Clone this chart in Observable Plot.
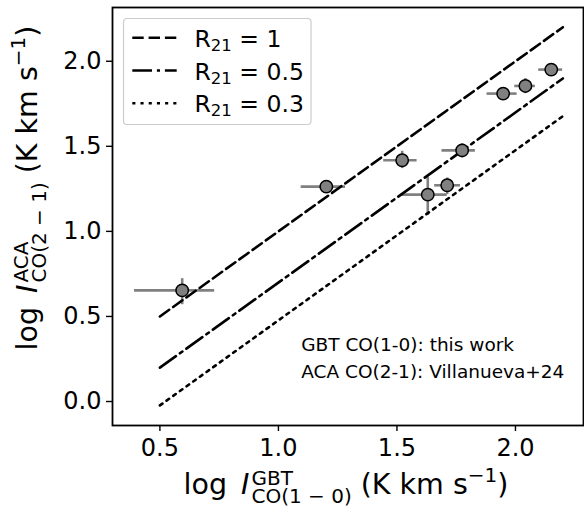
<!DOCTYPE html>
<html><head><meta charset="utf-8">
<script src="https://cdn.jsdelivr.net/npm/d3@7"></script>
<script src="https://cdn.jsdelivr.net/npm/@observablehq/plot@0.6"></script>
<style>body{margin:0;background:#fff} svg{display:block}</style>
</head><body><div id="chart"></div>
<script>
// ---- data ----
const gbt   = [0.594, 1.202, 1.522, 1.630, 1.712, 1.775, 1.948, 2.042, 2.151];
const gbtLo = [0.393, 1.096, 1.444, 1.522, 1.659, 1.690, 1.880, 1.997, 2.098];
const gbtHi = [0.731, 1.283, 1.585, 1.712, 1.768, 1.831, 2.007, 2.084, 2.199];
const aca   = [0.653, 1.263, 1.418, 1.216, 1.271, 1.476, 1.810, 1.855, 1.951];
const acaLo = [0.569, 1.250, 1.369, 1.094, 1.216, 1.431, 1.780, 1.810, 1.930];
const acaHi = [0.722, 1.276, 1.471, 1.319, 1.314, 1.516, 1.835, 1.898, 1.970];
const ratios = [1, 0.5, 0.3];
const ratioLabels = ["1", "0.5", "0.3"];
const lineX = [0.5, 2.2];
const xTicks = [0.5, 1.0, 1.5, 2.0];
const yTicks = [0.0, 0.5, 1.0, 1.5, 2.0];
const notes = ["GBT CO(1-0): this work", "ACA CO(2-1): Villanueva+24"];
const noteX = [1.096, 1.096];
const noteY = [0.330, 0.172];

const FONT = "'DejaVu Sans', sans-serif";
const dashes = ["11.4,4.9", "19.7,4.9,3.1,4.9", "3.1,5.1"];
const LW = 2.6;

const points = gbt.map((x, i) => ({x, y: aca[i], x1: gbtLo[i], x2: gbtHi[i], y1: acaLo[i], y2: acaHi[i]}));
const lines = ratios.map((r) => lineX.map(x => ({x, y: x + Math.log10(r)})));

const plot = Plot.plot({
  width: 584, height: 506,
  marginTop: 7, marginRight: 1, marginBottom: 81, marginLeft: 112,
  style: {fontFamily: FONT, background: "#fff", color: "#000", overflow: "visible"},
  x: {domain: [0.3, 2.287]},
  y: {domain: [-0.141, 2.316]},
  marks: [
    Plot.ruleY(points, {y: "y", x1: "x1", x2: "x2", stroke: "#808080", strokeWidth: LW}),
    Plot.ruleX(points, {x: "x", y1: "y1", y2: "y2", stroke: "#808080", strokeWidth: LW}),
    ...lines.map((L, i) => Plot.line(L, {x: "x", y: "y", stroke: "#000", strokeWidth: LW, strokeDasharray: dashes[i]})),
    Plot.dot(points, {x: "x", y: "y", r: 6.2, fill: "#808080", stroke: "#000", strokeWidth: 1.5}),
    Plot.text(notes, {x: noteX, y: noteY, text: d => d, textAnchor: "start", lineAnchor: "middle", fontSize: 18.5, fill: "#000"}),
    Plot.axisX(xTicks, {tickSize: 6, tickPadding: 7, tickFormat: d3.format(".1f"), fontSize: 24, strokeWidth: 1.4, label: null}),
    Plot.axisY(yTicks, {tickSize: 6, tickPadding: 5, tickFormat: d3.format(".1f"), fontSize: 24, strokeWidth: 1.4, label: null}),
    Plot.frame({stroke: "#000", strokeWidth: 1.8})
  ]
});
document.getElementById("chart").appendChild(plot);

const svg = d3.select(plot);

// rich text helper: parts are {t, size, dy, italic} or {stack:[...]} or {gap}
function rich(parent, parts) {
  const g = parent.append("g").attr("text-anchor", "start");
  let x = 0;
  const put = (q, x0) => {
    const t = g.append("text").attr("x", x0).attr("y", q.dy || 0)
      .attr("text-anchor", "start")
      .attr("font-family", FONT).attr("font-size", q.size)
      .attr("font-style", q.italic ? "oblique" : "normal")
      .attr("fill", "#000").style("white-space", "pre").text(q.t);
    return t.node().getComputedTextLength();
  };
  for (const p of parts) {
    if (p.gap) { x += p.gap; continue; }
    if (p.stack) { let w = 0; for (const q of p.stack) w = Math.max(w, put(q, x)); x += w; }
    else x += put(p, x);
  }
  g.selectAll("text").attr("x", function() { return +this.getAttribute("x") - x / 2; });
  return g;
}

const M = 28.5, S = 20;
const xl = rich(svg, [
  {t: "log", size: M}, {gap: 14}, {t: "I", size: M, italic: true}, {gap: 2},
  {stack: [{t: "GBT", size: S, dy: -9.5}, {t: "CO(1 \u2212 0)", size: S, dy: 8.5}]},
  {t: " (K km s", size: M}, {t: "\u22121", size: S, dy: -12.5}, {t: ")", size: M}
]);
xl.attr("transform", "translate(346,494)");

const yl = rich(svg, [
  {t: "log", size: M}, {gap: 14}, {t: "I", size: M, italic: true}, {gap: 2},
  {stack: [{t: "ACA", size: S, dy: -9.5}, {t: "CO(2 \u2212 1)", size: S, dy: 8.5}]},
  {t: " (K km s", size: M}, {t: "\u22121", size: S, dy: -12.5}, {t: ")", size: M}
]);
yl.attr("transform", "translate(37,188) rotate(-90)");

// legend
const lg = svg.append("g").attr("text-anchor", "start");
lg.append("rect").attr("x", 123.5).attr("y", 18.5).attr("width", 187.5).attr("height", 106)
  .attr("rx", 3.5).attr("fill", "#fff").attr("fill-opacity", 0.8).attr("stroke", "#cccccc").attr("stroke-width", 1.2);
const rowsY = [37.7, 70.5, 103.3];
ratios.forEach((r, i) => {
  lg.append("line").attr("x1", 132.3).attr("x2", 176.7).attr("y1", rowsY[i]).attr("y2", rowsY[i])
    .attr("stroke", "#000").attr("stroke-width", LW).attr("stroke-dasharray", dashes[i]);
  const t = lg.append("text").attr("x", 194.5).attr("y", rowsY[i] + 9).attr("text-anchor", "start")
    .attr("font-family", FONT).attr("font-size", 23.5).attr("fill", "#000");
  t.append("tspan").text("R");
  t.append("tspan").attr("font-size", 16.5).attr("dy", 4).text("21");
  t.append("tspan").attr("dy", -4).style("white-space", "pre").text(" = " + ratioLabels[i]);
});
</script>
</body></html>
